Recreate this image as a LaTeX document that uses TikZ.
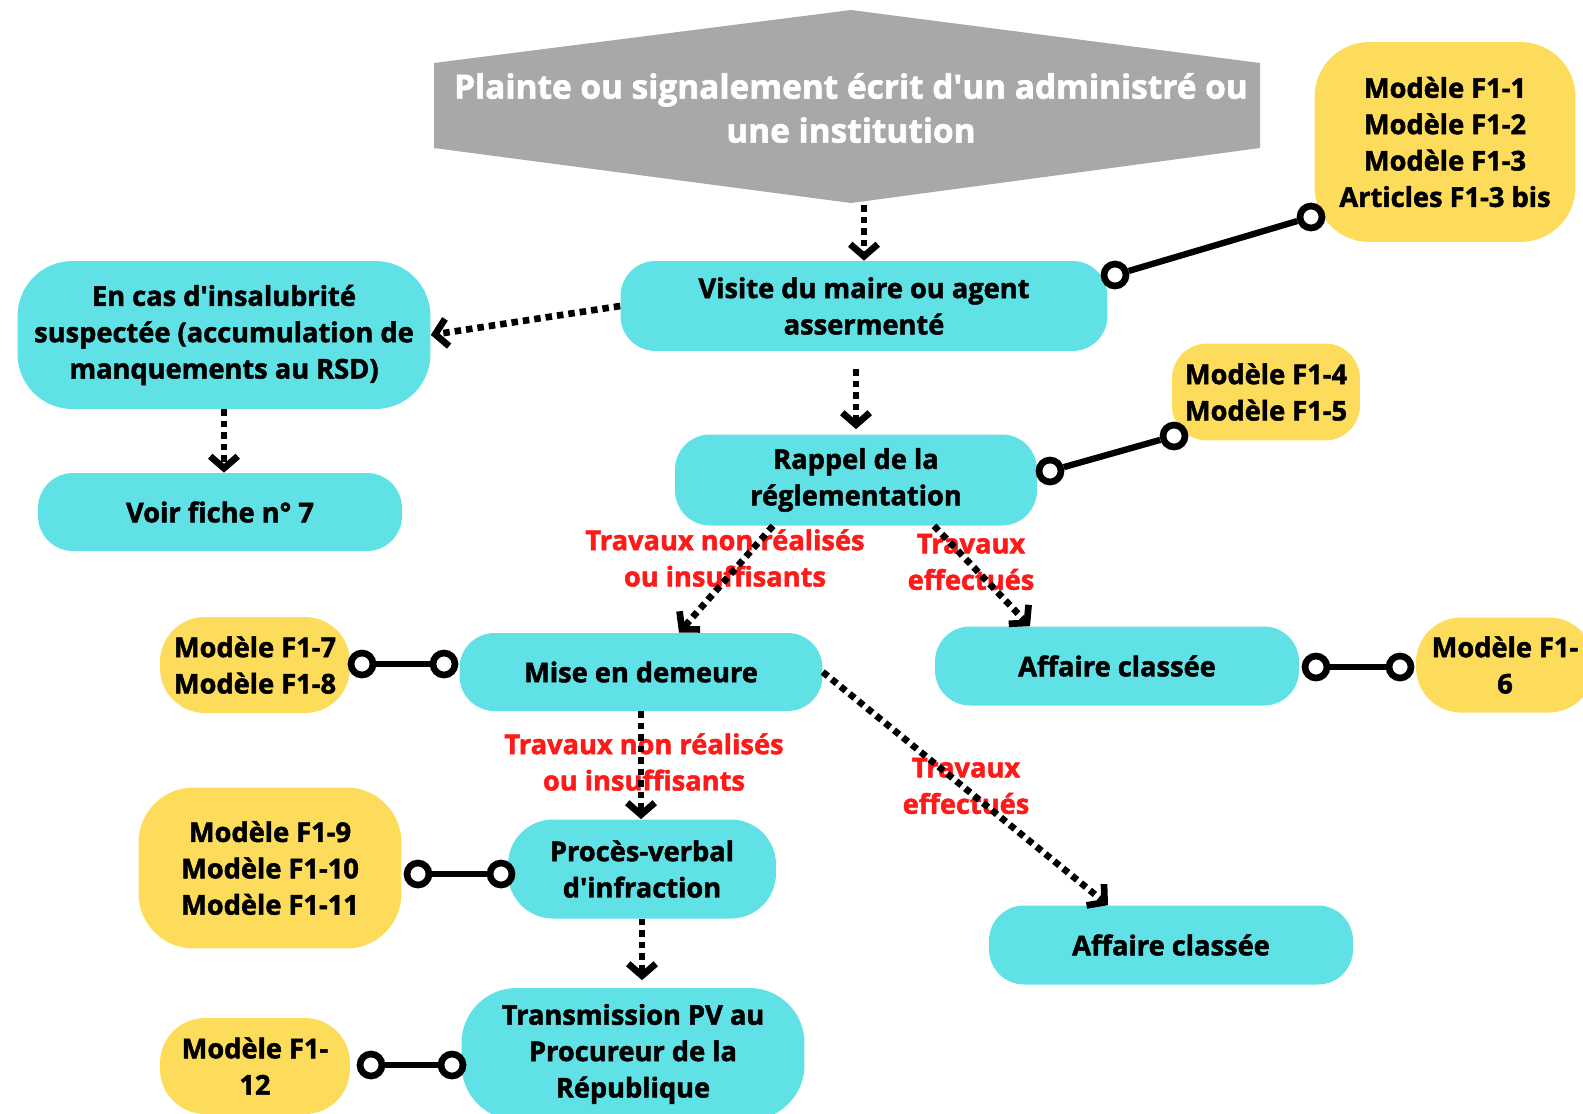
\documentclass[tikz,border=0pt]{standalone}
\usepackage{fontspec}
\setmainfont{Open Sans}[BoldFeatures={FakeBold=1.8}]
\usepackage{xcolor}
\usepackage{tikz}
\usetikzlibrary{positioning,arrows.meta}

\definecolor{boxcyan}{RGB}{96,225,230}
\definecolor{boxyellow}{RGB}{253,220,92}
\definecolor{hexgray}{RGB}{168,168,168}
\definecolor{labelred}{RGB}{255,26,26}
\newcommand{\apos}{\textquotesingle}

\begin{document}
\begin{tikzpicture}[x=0.02cm, y=-0.02cm,
  etape/.style={fill=boxcyan, rounded corners=0.7cm, align=center, inner sep=0pt,
    font=\fontsize{15.5}{20.7}\selectfont\bfseries},
  modele/.style={fill=boxyellow, rounded corners=0.7cm, align=center, inner sep=0pt,
    font=\fontsize{15.5}{20.7}\selectfont\bfseries},
  cond/.style={text=labelred, align=center, inner sep=0pt,
    font=\fontsize{15.5}{20.7}\selectfont\bfseries},
  knob/.style={circle, draw=black, fill=white, line width=3.8pt, minimum size=0.44cm, inner sep=0pt},
  link/.style={line width=3.6pt},
  flow/.style={line width=3.8pt, dash pattern=on 0.13cm off 0.1cm,
    -{Straight Barb[length=0.24cm,width=0.55cm]}}]
  \useasboundingbox (0,0) rectangle (1583,1113);
  % Title hexagon
  \fill[hexgray] (851,10) -- (1260,63) -- (1260,148) -- (851,203) -- (434,148) -- (434,63) -- cycle;
  \node[text=white, align=center, font=\fontsize{19}{25}\selectfont\bfseries] (plainte) at (851,108)
    {Plainte ou signalement écrit d\apos un administré ou\\une institution};
  \coordinate (plaintebas) at (851,205);
  % Steps
  \node[etape, minimum width=9.74cm, minimum height=1.8cm] (visite) at (864,306) {Visite du maire ou agent\\assermenté};
  \node[etape, minimum width=8.26cm, minimum height=2.96cm, rounded corners=1.1cm] (insalub) at (224,335)
    {En cas d\apos insalubrité\\suspectée (accumulation de\\manquements au RSD)};
  \node[etape, minimum width=7.28cm, minimum height=1.56cm] (fiche) at (220,512) {Voir fiche n° 7};
  \node[etape, minimum width=7.24cm, minimum height=1.82cm] (rappel) at (856,480) {Rappel de la\\réglementation};
  \node[etape, minimum width=7.26cm, minimum height=1.56cm] (demeure) at (641,672) {Mise en demeure};
  \node[etape, minimum width=7.28cm, minimum height=1.58cm] (classeA) at (1117,666) {Affaire classée};
  \node[etape, minimum width=5.36cm, minimum height=1.98cm, rounded corners=0.9cm] (pv) at (642,869) {Procès-verbal\\d\apos infraction};
  \node[etape, minimum width=7.28cm, minimum height=1.58cm] (classeB) at (1171,945) {Affaire classée};
  \node[etape, minimum width=6.86cm, minimum height=2.64cm, rounded corners=1.1cm] (transmission) at (633,1054)
    {Transmission PV au\\Procureur de la\\République};
  % Models
  \node[modele, minimum width=5.22cm, minimum height=4cm, rounded corners=1.1cm] (mod1) at (1445,142)
    {Modèle F1-1\\Modèle F1-2\\Modèle F1-3\\Articles F1-3 bis};
  \node[modele, minimum width=3.76cm, minimum height=1.94cm] (mod4) at (1266,392) {Modèle F1-4\\Modèle F1-5};
  \node[modele, minimum width=3.8cm, minimum height=1.92cm, rounded corners=0.9cm] (mod7) at (255,665) {Modèle F1-7\\Modèle F1-8};
  \node[modele, minimum width=3.56cm, minimum height=1.9cm, rounded corners=0.9cm] (mod6) at (1505,665) {Modèle F1-\\6};
  \node[modele, minimum width=5.26cm, minimum height=3.22cm, rounded corners=1.1cm] (mod9) at (270,868)
    {Modèle F1-9\\Modèle F1-10\\Modèle F1-11};
  \node[modele, minimum width=3.8cm, minimum height=1.92cm, rounded corners=0.9cm] (mod12) at (255,1066) {Modèle F1-\\12};
  % Conditions
  \node[cond] (nonA) at (725,558) {Travaux non réalisés\\ou insuffisants};
  \node[cond] (faitA) at (971,562) {Travaux\\effectués};
  \node[cond] (nonB) at (644,762) {Travaux non réalisés\\ou insuffisants};
  \node[cond] (faitB) at (966,786) {Travaux\\effectués};
  % Links to the models
  \foreach \i/\ax/\ay/\bx/\by in {1/1115/275/1311/217, 2/1050/471/1174/436, 3/362/664/444/664,
      4/1316/667/1400/667, 5/418/874/501/874, 6/371/1065/452/1065} {
    \node[knob] (ka\i) at (\ax,\ay) {};
    \node[knob] (kb\i) at (\bx,\by) {};
    \draw[link] (ka\i) -- (kb\i);
  }
  % Flow
  \draw[flow] (visite.north |- plaintebas) -- (visite.north);
  \draw[flow] (visite.west) -- (insalub.east);
  \draw[flow] (insalub.south) -- (insalub.south |- fiche.north);
  \draw[flow, shorten <=0.36cm, shorten >=0.1cm] (rappel.north |- visite.south) -- (rappel.north);
  \draw[flow] ([xshift=-1.66cm]rappel.south) -- ([xshift=0.76cm]demeure.north);
  \draw[flow] ([xshift=1.56cm]rappel.south) -- ([xshift=-1.74cm]classeA.north);
  \draw[flow] (demeure.south) -- (demeure.south |- pv.north);
  \draw[flow] (demeure.east) -- ([xshift=-1.26cm]classeB.north);
  \draw[flow, shorten >=0.15cm] (pv.south) -- (pv.south |- transmission.north);
\end{tikzpicture}
\end{document}
